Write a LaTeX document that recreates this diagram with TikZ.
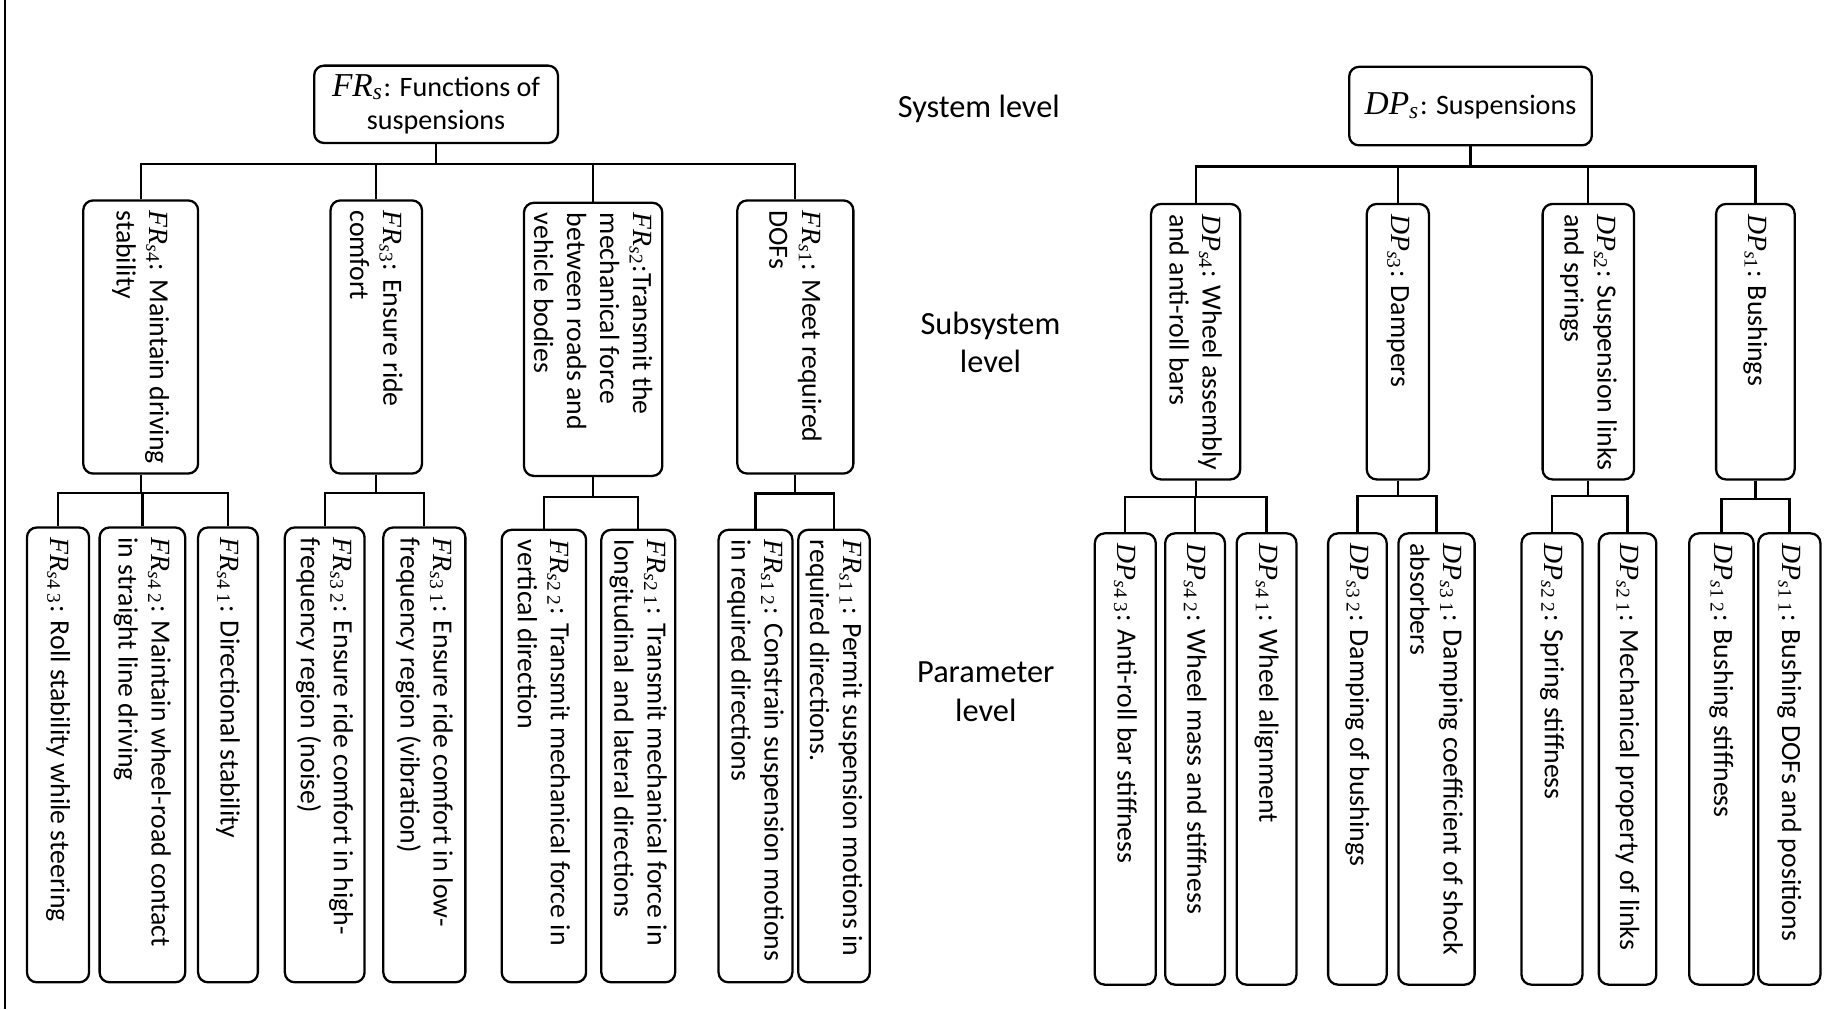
\documentclass[tikz,border=0pt]{standalone}
\usepackage{fontspec}
\setmainfont{Carlito}
\newfontfamily\cam{Liberation Serif}
\usetikzlibrary{fit}
\newcommand\sym[3]{{\cam\itshape #1}\textsubscript{{\cam\itshape #2}{\cam #3}}}
\newcommand\mybox[6]{%
  \node[box, fit={(#2,#3) (#4,#5)}] (#1) {};
  \node[vtext] (#1t) at ({(#2+#4)/2},{#3+8}) {#6};}
\begin{document}
\begin{tikzpicture}[x=0.0117219cm, y=-0.0117219cm,
  box/.style={draw, line width=0.65pt, rounded corners=2.8pt, inner sep=0pt},
  vtext/.style={rotate=-90, anchor=west, align=left, inner sep=0pt, font=\fontsize{7.9}{9.4}\selectfont},
  htext/.style={align=center, inner sep=0pt, font=\fontsize{8}{9.6}\selectfont},
  lvl/.style={align=center, inner sep=0pt, font=\fontsize{9.2}{11}\selectfont},
  conn/.style={line width=0.65pt}]
\useasboundingbox (0,0) rectangle (1568,861);
\draw[line width=0.65pt] (4.3,0) -- (4.3,861);

% ---------- level labels
\node[lvl] (L1) at (835,93) {System level};
\node[lvl] (L2) at (845,292) {Subsystem\\level};
\node[lvl] (L3) at (841,590) {Parameter\\level};

% ---------- FR tree
\node[box, fit={(268,56) (476,122)}] (FRs) {};
\node[htext] (FRst) at (FRs.center) {{\fontsize{9.5}{9.6}\selectfont\sym{FR}{s}{}}: Functions of\\suspensions};

\mybox{FR4}{71}{171}{169}{404}{\sym{FR}{s}{4}: Maintain driving\\stability}
\mybox{FR3}{282}{171}{360}{404}{\sym{FR}{s}{3}: Ensure ride\\comfort}
\mybox{FR2}{447}{173}{565}{406}{\sym{FR}{s}{2}:Transmit the\\mechanical force\\between roads and\\vehicle bodies}
\mybox{FR1}{629}{171}{728}{404}{\sym{FR}{s}{1}: Meet required\\DOFs}

\mybox{FR43}{23}{450}{76}{838}{\sym{FR}{s}{4\hspace{0.25em}3}: Roll stability while steering}
\mybox{FR42}{85}{450}{158}{838}{\sym{FR}{s}{4\hspace{0.25em}2}: Maintain wheel-road contact\\in straight line driving}
\mybox{FR41}{169}{450}{220}{838}{\sym{FR}{s}{4\hspace{0.25em}1}: Directional stability}
\mybox{FR32}{243}{450}{311}{838}{\sym{FR}{s}{3\hspace{0.25em}2}: Ensure ride comfort in high-\\frequency region (noise)}
\mybox{FR31}{327}{450}{397}{838}{\sym{FR}{s}{3\hspace{0.25em}1}: Ensure ride comfort in low-\\frequency region (vibration)}
\mybox{FR22}{428}{452}{500}{838}{\sym{FR}{s}{2\hspace{0.25em}2}: Transmit mechanical force in\\vertical direction}
\mybox{FR21}{513}{452}{576}{838}{\sym{FR}{s}{2\hspace{0.25em}1}: Transmit mechanical force in\\longitudinal and lateral directions}
\mybox{FR12}{613}{452}{676}{838}{\sym{FR}{s}{1\hspace{0.25em}2}: Constrain suspension motions\\in required directions}
\mybox{FR11}{681}{452}{742}{838}{\sym{FR}{s}{1\hspace{0.25em}1}: Permit suspension motions in\\required directions.}

\foreach \c in {FR4,FR3,FR2,FR1} \draw[conn] (FRs.south) -- ++(0,17) -| (\c.north);
\foreach \c in {FR43,FR42,FR41} \draw[conn] (FR4.south) -- ++(0,15.5) -| (\c.north);
\foreach \c in {FR32,FR31} \draw[conn] (FR3.south) -- ++(0,15.5) -| (\c.north);
\foreach \c in {FR22,FR21} \draw[conn] (FR2.south) -- ++(0,17) -| (\c.north);
\foreach \c in {FR12,FR11} \draw[conn] (FR1.south) -- ++(0,16) -| (\c.north);

% ---------- DP tree
\node[box, fit={(1151,57) (1358,124)}] (DPs) {};
\node[htext] (DPst) at (DPs.center) {{\fontsize{9.5}{9.6}\selectfont\sym{DP}{s}{}}: Suspensions};

\mybox{DP4}{982}{174}{1058}{409}{\sym{DP}{s}{4}: Wheel assembly\\and anti-roll bars}
\mybox{DP3}{1166}{174}{1219}{409}{\sym{DP}{s}{3}: Dampers}
\mybox{DP2}{1316}{174}{1394}{409}{\sym{DP}{s}{2}: Suspension links\\and springs}
\mybox{DP1}{1464}{174}{1531}{409}{\sym{DP}{s}{1}: Bushings}

\mybox{DP43}{934}{455}{986}{840}{\sym{DP}{s}{4\hspace{0.25em}3}: Anti-roll bar stiffness}
\mybox{DP42}{994}{455}{1045}{840}{\sym{DP}{s}{4\hspace{0.25em}2}: Wheel mass and stiffness}
\mybox{DP41}{1055}{455}{1106}{840}{\sym{DP}{s}{4\hspace{0.25em}1}: Wheel alignment}
\mybox{DP32}{1133}{455}{1183}{840}{\sym{DP}{s}{3\hspace{0.25em}2}: Damping of bushings}
\mybox{DP31}{1193}{455}{1258}{840}{\sym{DP}{s}{3\hspace{0.25em}1}: Damping coefficient of shock\\absorbers}
\mybox{DP22}{1298}{455}{1350}{840}{\sym{DP}{s}{2\hspace{0.25em}2}: Spring stiffness}
\mybox{DP21}{1364}{455}{1413}{840}{\sym{DP}{s}{2\hspace{0.25em}1}: Mechanical property of links}
\mybox{DP12}{1441}{455}{1496}{840}{\sym{DP}{s}{1\hspace{0.25em}2}: Bushing stiffness}
\mybox{DP11}{1500}{455}{1553}{840}{\sym{DP}{s}{1\hspace{0.25em}1}: Bushing DOFs and positions}

\foreach \c in {DP4,DP3,DP2,DP1} \draw[conn] (DPs.south) -- ++(0,17) -| (\c.north);
\foreach \c in {DP43,DP42,DP41} \draw[conn] (DP4.south) -- ++(0,14) -| (\c.north);
\foreach \c in {DP32,DP31} \draw[conn] (DP3.south) -- ++(0,13) -| (\c.north);
\foreach \c in {DP22,DP21} \draw[conn] (DP2.south) -- ++(0,13) -| (\c.north);
\foreach \c in {DP12,DP11} \draw[conn] (DP1.south) -- ++(0,16) -| (\c.north);
\end{tikzpicture}
\end{document}
